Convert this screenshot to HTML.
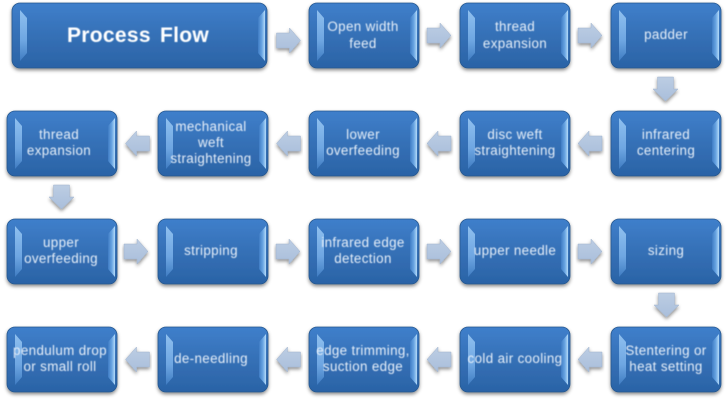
<!DOCTYPE html>
<html><head><meta charset="utf-8">
<style>
html,body{margin:0;padding:0;background:#fff;width:728px;height:401px;overflow:hidden}
svg{display:block}
text{font-family:"Liberation Sans",sans-serif;fill:#e6eff9;font-size:13.4px;text-anchor:middle;letter-spacing:.35px}
.t{filter:url(#tb)}
</style></head><body>
<svg width="728" height="401" viewBox="0 0 728 401" xmlns="http://www.w3.org/2000/svg">
<defs>
<linearGradient id="g" x1="0" y1="0" x2="0" y2="1"><stop offset="0" stop-color="#3f7fcb"/><stop offset=".5" stop-color="#3570b6"/><stop offset="1" stop-color="#2a63a6"/></linearGradient>
<linearGradient id="l" x1="0" y1="0" x2="0" y2="1"><stop offset="0" stop-color="#8fc0ef"/><stop offset=".6" stop-color="#6ea6e2"/><stop offset="1" stop-color="#3f7cc2"/></linearGradient>
<linearGradient id="r" x1="0" y1="0" x2="1" y2="0"><stop offset="0" stop-color="#3f7cc4"/><stop offset=".55" stop-color="#69a5e3"/><stop offset="1" stop-color="#b4daf8"/></linearGradient>
<linearGradient id="a" x1="0" y1="0" x2="0" y2="1"><stop offset="0" stop-color="#bccde3"/><stop offset="1" stop-color="#a9bedb"/></linearGradient>
<filter id="s" x="-10%" y="-15%" width="120%" height="135%"><feDropShadow dx="0" dy="2" stdDeviation="1.8" flood-color="#000" flood-opacity=".45"/></filter>
<filter id="tb"><feGaussianBlur stdDeviation=".4"/></filter>
<g id="b"><rect x="0" y="0" width="110" height="65" rx="8" fill="url(#g)" stroke="#27588f" stroke-width=".8" filter="url(#s)"/>
<polygon points="8,7 15,15 15,50 8,58" fill="url(#l)"/><polygon points="108,7 101,15 101,50 108,58" fill="url(#r)"/></g>
<g id="ar"><polygon points="0,5 13,5 13,0 24,12.5 13,25 13,20 0,20" fill="url(#a)" stroke="#9fb2cc" stroke-width=".5" filter="url(#s)"/></g>
<g id="al"><polygon points="24,5 11,5 11,0 0,12.5 11,25 11,20 24,20" fill="url(#a)" stroke="#9fb2cc" stroke-width=".5" filter="url(#s)"/></g>
<g id="ad"><polygon points="4.500,0 20.500,0 20.500,12 25,12 12.500,24 0,12 4.500,12" fill="url(#a)" stroke="#9fb2cc" stroke-width=".5" filter="url(#s)"/></g>
</defs>
<rect width="728" height="401" fill="#fff"/>

<rect x="12" y="3" width="255" height="65" rx="8" fill="url(#g)" stroke="#27588f" stroke-width=".8" filter="url(#s)"/>
<polygon points="20,10 27,18 27,53 20,61" fill="url(#l)"/><polygon points="265,10 258,18 258,53 265,61" fill="url(#r)"/>
<use href="#b" x="309" y="3"/><use href="#b" x="460" y="3"/><use href="#b" x="611" y="3"/>

<use href="#b" x="7" y="111"/><use href="#b" x="158" y="111"/><use href="#b" x="309" y="111"/><use href="#b" x="460" y="111"/><use href="#b" x="611" y="111"/>
<use href="#b" x="7" y="219"/><use href="#b" x="158" y="219"/><use href="#b" x="309" y="219"/><use href="#b" x="460" y="219"/><use href="#b" x="611" y="219"/>
<use href="#b" x="7" y="327"/><use href="#b" x="158" y="327"/><use href="#b" x="309" y="327"/><use href="#b" x="460" y="327"/><use href="#b" x="611" y="327"/>

<use href="#ar" x="276.500" y="28"/><use href="#ar" x="427" y="23"/><use href="#ar" x="578" y="23"/>
<use href="#ad" x="653" y="77"/>
<use href="#al" x="578" y="131"/><use href="#al" x="427" y="131"/><use href="#al" x="276.500" y="131"/><use href="#al" x="125.500" y="131"/>
<use href="#ad" x="49" y="185"/>
<use href="#ar" x="124" y="239"/><use href="#ar" x="276" y="239"/><use href="#ar" x="427" y="239"/><use href="#ar" x="578" y="239"/>
<use href="#ad" x="654" y="293"/>
<use href="#al" x="578" y="347"/><use href="#al" x="427" y="347"/><use href="#al" x="276.500" y="347"/><use href="#al" x="125.500" y="347"/>

<g class="t">
<text x="138" y="42" style="font-size:21px;font-weight:bold;fill:#fff;letter-spacing:.3px;word-spacing:3px">Process Flow</text>
<text x="363" y="31">Open width</text><text x="363" y="48">feed</text>
<text x="515" y="31">thread</text><text x="515" y="48">expansion</text>
<text x="666" y="39">padder</text>

<text x="59" y="139">thread</text><text x="59" y="155">expansion</text>
<text x="211" y="131">mechanical</text><text x="211" y="147">weft</text><text x="211" y="163">straightening</text>
<text x="363" y="139">lower</text><text x="363" y="155">overfeeding</text>
<text x="515" y="139">disc weft</text><text x="515" y="155">straightening</text>
<text x="666" y="139">infrared</text><text x="666" y="155">centering</text>

<text x="61" y="247">upper</text><text x="61" y="263">overfeeding</text>
<text x="211" y="255">stripping</text>
<text x="363" y="247">infrared edge</text><text x="363" y="263">detection</text>
<text x="515" y="255">upper needle</text>
<text x="666" y="255">sizing</text>

<text x="60" y="355">pendulum drop</text><text x="60" y="371">or small roll</text>
<text x="211" y="363">de-needling</text>
<text x="363" y="355">edge trimming,</text><text x="363" y="371">suction edge</text>
<text x="515" y="363">cold air cooling</text>
<text x="666" y="355">Stentering or</text><text x="666" y="371">heat setting</text>
</g>
</svg>
</body></html>
